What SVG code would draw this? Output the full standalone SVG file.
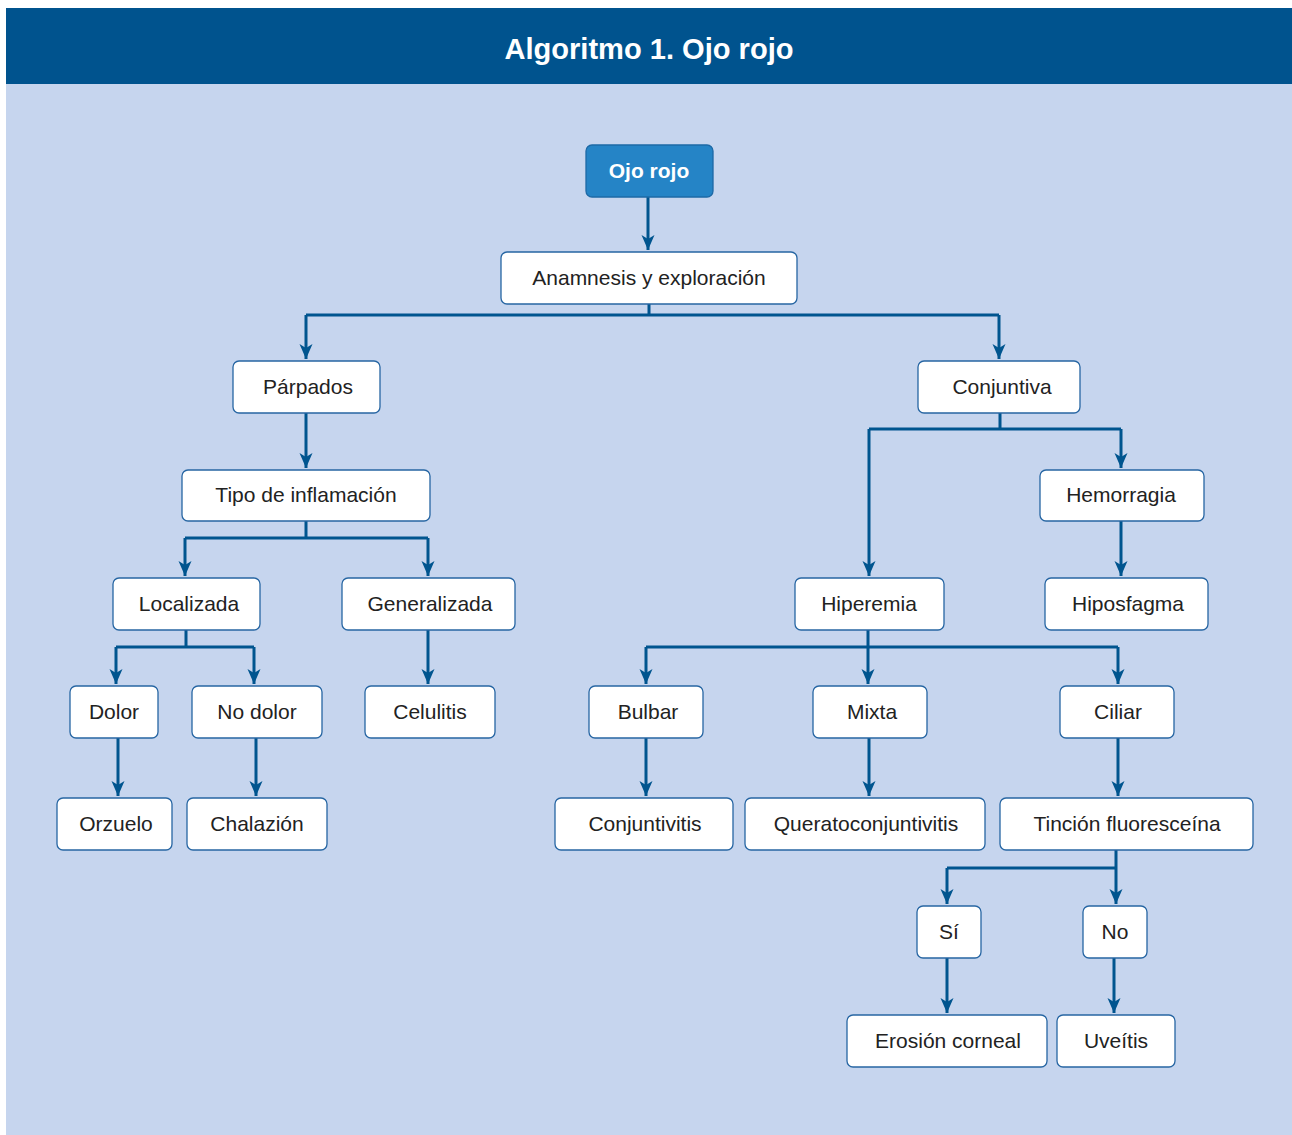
<svg xmlns="http://www.w3.org/2000/svg" width="1292" height="1135" viewBox="0 0 1292 1135">
<style>
.n rect{fill:#fff;stroke:#2766a3;stroke-width:1.3}
.n text{font-family:"Liberation Sans",Arial,sans-serif;font-size:21px;fill:#222;text-anchor:middle}
#ojo rect{fill:#2584c6;stroke:#1d69a6}
#ojo text{fill:#fff;font-weight:bold}
.c path{fill:none;stroke:#00558f;stroke-width:3}
</style>
<defs>
<marker id="ah" markerUnits="userSpaceOnUse" markerWidth="20" markerHeight="20" viewBox="-16 -8 20 16" refX="0" refY="0" orient="auto">
<path d="M0,0 L-15,-6.5 L-11,0 L-15,6.5 Z" fill="#00558f"/>
</marker>
</defs>
<rect x="0" y="0" width="1292" height="1135" fill="#fff"/>
<rect x="6" y="8" width="1286" height="76" fill="#00538e"/>
<rect x="6" y="84" width="1286" height="1051" fill="#c6d5ee"/>
<text x="649" y="59" fill="#fff" font-family="Liberation Sans,Arial,sans-serif" font-weight="bold" font-size="30" text-anchor="middle" textLength="289" lengthAdjust="spacingAndGlyphs">Algoritmo 1. Ojo rojo</text>

<g class="c">
<path d="M648,197 V250" marker-end="url(#ah)"/>
<path d="M649,304 V315 M306,315 H999" />
<path d="M306,315 V359" marker-end="url(#ah)"/>
<path d="M999,315 V359" marker-end="url(#ah)"/>
<path d="M306,413 V468" marker-end="url(#ah)"/>
<path d="M306,521 V538 M185,538 H428"/>
<path d="M185,538 V576" marker-end="url(#ah)"/>
<path d="M428,538 V576" marker-end="url(#ah)"/>
<path d="M1000,413 V429 M869,429 H1121"/>
<path d="M869,429 V576" marker-end="url(#ah)"/>
<path d="M1121,429 V468" marker-end="url(#ah)"/>
<path d="M1121,521 V576" marker-end="url(#ah)"/>
<path d="M186,630 V647 M116,647 H254"/>
<path d="M116,647 V684" marker-end="url(#ah)"/>
<path d="M254,647 V684" marker-end="url(#ah)"/>
<path d="M428,630 V684" marker-end="url(#ah)"/>
<path d="M868,630 V647 M646,647 H1118"/>
<path d="M646,647 V684" marker-end="url(#ah)"/>
<path d="M868,647 V684" marker-end="url(#ah)"/>
<path d="M1118,647 V684" marker-end="url(#ah)"/>
<path d="M118,738 V796" marker-end="url(#ah)"/>
<path d="M256,738 V796" marker-end="url(#ah)"/>
<path d="M646,738 V796" marker-end="url(#ah)"/>
<path d="M869,738 V796" marker-end="url(#ah)"/>
<path d="M1118,738 V796" marker-end="url(#ah)"/>
<path d="M1116,850 V868 M947,868 H1116"/>
<path d="M947,868 V904" marker-end="url(#ah)"/>
<path d="M1116,868 V904" marker-end="url(#ah)"/>
<path d="M947,958 V1013" marker-end="url(#ah)"/>
<path d="M1114,958 V1013" marker-end="url(#ah)"/>
</g>

<g id="ojo" class="n"><rect x="586" y="145" width="127" height="52" rx="6"/><text x="649" y="178">Ojo rojo</text></g>
<g id="anamnesis" class="n"><rect x="501" y="252" width="296" height="52" rx="6"/><text x="649" y="285">Anamnesis y exploración</text></g>
<g id="parpados" class="n"><rect x="233" y="361" width="147" height="52" rx="6"/><text x="308" y="394">Párpados</text></g>
<g id="conjuntiva" class="n"><rect x="918" y="361" width="162" height="52" rx="6"/><text x="1002" y="394">Conjuntiva</text></g>
<g id="tipo" class="n"><rect x="182" y="470" width="248" height="51" rx="6"/><text x="306" y="502">Tipo de inflamación</text></g>
<g id="hemorragia" class="n"><rect x="1040" y="470" width="164" height="51" rx="6"/><text x="1121" y="502">Hemorragia</text></g>
<g id="localizada" class="n"><rect x="113" y="578" width="147" height="52" rx="6"/><text x="189" y="611">Localizada</text></g>
<g id="generalizada" class="n"><rect x="342" y="578" width="173" height="52" rx="6"/><text x="430" y="611">Generalizada</text></g>
<g id="hiperemia" class="n"><rect x="795" y="578" width="149" height="52" rx="6"/><text x="869" y="611">Hiperemia</text></g>
<g id="hiposfagma" class="n"><rect x="1045" y="578" width="163" height="52" rx="6"/><text x="1128" y="611">Hiposfagma</text></g>
<g id="dolor" class="n"><rect x="70" y="686" width="88" height="52" rx="6"/><text x="114" y="719">Dolor</text></g>
<g id="nodolor" class="n"><rect x="192" y="686" width="130" height="52" rx="6"/><text x="257" y="719">No dolor</text></g>
<g id="celulitis" class="n"><rect x="365" y="686" width="130" height="52" rx="6"/><text x="430" y="719">Celulitis</text></g>
<g id="bulbar" class="n"><rect x="589" y="686" width="114" height="52" rx="6"/><text x="648" y="719">Bulbar</text></g>
<g id="mixta" class="n"><rect x="813" y="686" width="114" height="52" rx="6"/><text x="872" y="719">Mixta</text></g>
<g id="ciliar" class="n"><rect x="1060" y="686" width="114" height="52" rx="6"/><text x="1118" y="719">Ciliar</text></g>
<g id="orzuelo" class="n"><rect x="57" y="798" width="115" height="52" rx="6"/><text x="116" y="831">Orzuelo</text></g>
<g id="chalazion" class="n"><rect x="187" y="798" width="140" height="52" rx="6"/><text x="257" y="831">Chalazión</text></g>
<g id="conjuntivitis" class="n"><rect x="555" y="798" width="178" height="52" rx="6"/><text x="645" y="831">Conjuntivitis</text></g>
<g id="queratoconjuntivitis" class="n"><rect x="745" y="798" width="240" height="52" rx="6"/><text x="866" y="831">Queratoconjuntivitis</text></g>
<g id="tincion" class="n"><rect x="1000" y="798" width="253" height="52" rx="6"/><text x="1127" y="831">Tinción fluoresceína</text></g>
<g id="si" class="n"><rect x="917" y="906" width="64" height="52" rx="6"/><text x="949" y="939">Sí</text></g>
<g id="no" class="n"><rect x="1083" y="906" width="64" height="52" rx="6"/><text x="1115" y="939">No</text></g>
<g id="erosion" class="n"><rect x="847" y="1015" width="200" height="52" rx="6"/><text x="948" y="1048">Erosión corneal</text></g>
<g id="uveitis" class="n"><rect x="1057" y="1015" width="118" height="52" rx="6"/><text x="1116" y="1048">Uveítis</text></g>
</svg>
